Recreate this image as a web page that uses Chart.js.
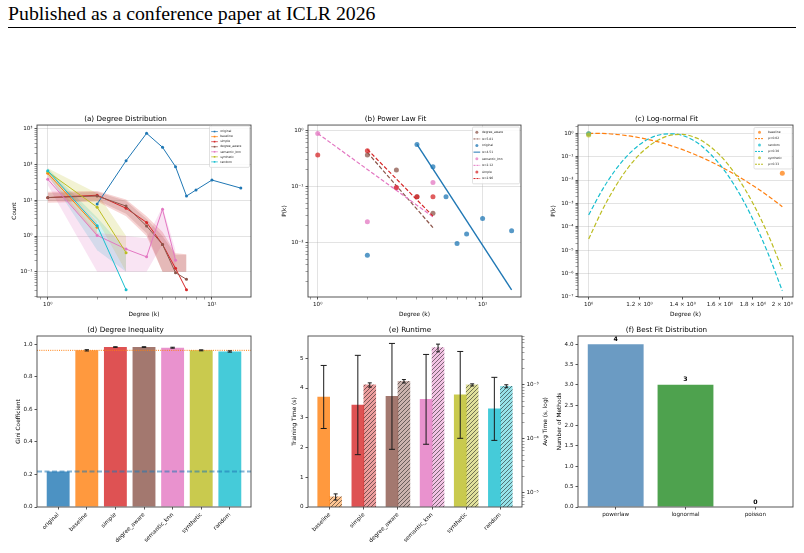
<!DOCTYPE html>
<html lang="en">
  <head>
    <meta charset="UTF-8" />
    <title>Degree distribution study</title>
    <style>
      body { margin: 0; background: #fff; }
      .page { position: relative; width: 804px; height: 553px; overflow: hidden; background: #fff; }
      .header { position: absolute; left: 8px; top: 4px; font-family: "Liberation Serif", serif; font-size: 19.8px; line-height: 1; color: #000; white-space: nowrap; }
      .rule { position: absolute; left: 8px; top: 27px; width: 788px; border-top: 1px solid #000; }
      canvas { position: absolute; }
    </style>
    <script src="https://cdn.jsdelivr.net/npm/chart.js@4.4.1/dist/chart.umd.min.js"></script>
  </head>
  <body>
    <div class="page">
      <div class="header">Published as a conference paper at ICLR 2026</div>
      <div class="rule"></div>
      <canvas id="ca" width="262" height="217" style="left:0;top:104px"></canvas>
      <canvas id="cb" width="262" height="217" style="left:270px;top:104px"></canvas>
      <canvas id="cc" width="264" height="217" style="left:540px;top:104px"></canvas>
      <canvas id="cd" width="262" height="237" style="left:0;top:316px"></canvas>
      <canvas id="ce" width="280" height="237" style="left:270px;top:316px"></canvas>
      <canvas id="cf" width="264" height="237" style="left:540px;top:316px"></canvas>
    </div>

    <script>
      // (a) degree distribution: mean counts per degree, with shaded spread
      const degMethods = ["original", "baseline", "simple", "degree_aware", "semantic_knn", "synthetic", "random"];
      const degK = [
        [2, 3, 4, 5, 6, 7, 8, 10, 15],
        [1, 2],
        [1, 2, 3, 4, 5, 6, 7],
        [1, 2, 3, 4, 5, 6, 7],
        [1, 2, 3, 4, 5, 6],
        [1, 2, 3],
        [1, 2, 3],
      ];
      const degCount = [
        [7.9, 129, 756, 307, 88, 13.2, 19.5, 37, 22],
        [57, 1.75],
        [11.9, 13.9, 6.0, 2.4, 0.58, 0.124, 0.031],
        [12, 13.2, 6.9, 1.9, 0.58, 0.094, 0.061],
        [39, 1.04, 0.43, 0.26, 5.6, 0.21],
        [63, 6.4, 0.34],
        [68, 1.95, 0.031],
      ];
      const degUpper = [
        null,
        [71, 2.5],
        [17.5, 18.3, 10.6, 3.6, 1.3, 0.33, 0.31],
        [16, 17, 9.5, 3.0, 1.0, 0.3, 0.3],
        [51, 1.24, 1.0, 0.86, 6.6, 0.4],
        [79, 15.7, 1.0],
        [79, 3.3, 0.4],
      ];
      const degLower = [
        null,
        [46, 0.96],
        [8.6, 9.2, 3.6, 1.0, 0.1, 0.1, 0.1],
        [9.5, 10, 4.2, 1.2, 0.1, 0.1, 0.1],
        [27, 0.1, 0.1, 0.1, 0.6, 0.1],
        [51, 2.8, 0.1],
        [51, 0.4, 0.1],
      ];

      // (b) power law fit
      const plMethods = ["degree_aware", "original", "semantic_knn", "simple"];
      const plAlpha = ["α=5.81", "α=4.51", "α=2.12", "α=2.96"];
      const plK = [[2, 3, 4, 5], [2, 4, 5, 6, 7, 8, 10, 15], [1, 2, 3, 5], [1, 2, 3, 4, 5]];
      const plP = [
        [0.36, 0.194, 0.065, 0.033],
        [0.0059, 0.556, 0.222, 0.065, 0.0096, 0.0141, 0.0267, 0.0161],
        [0.87, 0.0233, 0.094, 0.117],
        [0.36, 0.43, 0.095, 0.065, 0.065],
      ];
      const plFitK = [[2, 5], [4, 15], [1, 5], [2, 5]];
      const plFitP = [[0.4, 0.0184], [0.556, 0.00143], [0.87, 0.0286], [0.453, 0.0294]];

      // (c) log-normal fit
      const lnMethods = ["baseline", "random", "synthetic"];
      const lnMu = ["μ=0.02", "μ=0.30", "μ=0.33"];
      const lnPointK = [[1, 2], [1], [1]];
      const lnPointP = [[0.95, 0.0193], [0.97], [0.85]];
      const lnCurveK = [1.0, 1.05, 1.1, 1.15, 1.2, 1.25, 1.3, 1.35, 1.4, 1.45, 1.5, 1.6, 1.7, 1.8, 1.9, 2.0];
      const lnCurveP = [
        [1.0, 0.99, 0.91, 0.79, 0.65, 0.51, 0.39, 0.283, 0.2, 0.137, 0.092, 0.039, 0.0155, 0.0058, 0.0021, 0.00072],
        [3.2e-4, 3.8e-3, 0.0266, 0.115, 0.33, 0.65, 0.9, 0.95, 0.81, 0.53, 0.28, 0.0455, 0.004, 2.1e-4, 7.3e-6, 1.8e-7],
        [2.95e-5, 5.2e-4, 5.2e-3, 0.032, 0.126, 0.33, 0.62, 0.86, 0.9, 0.73, 0.48, 0.115, 0.0142, 1.02e-3, 4.7e-5, 1.5e-6],
      ];
      const lnXTicks = [1, 1.2, 1.4, 1.6, 1.8, 2];
      const lnXLabels = ["10⁰", "1.2 × 10⁰", "1.4 × 10⁰", "1.6 × 10⁰", "1.8 × 10⁰", "2 × 10⁰"];

      // (d) degree inequality
      const giniMethods = ["original", "baseline", "simple", "degree_aware", "semantic_knn", "synthetic", "random"];
      const gini = [0.218, 0.962, 0.982, 0.982, 0.978, 0.962, 0.955];
      const giniErr = [0, 0.004, 0.002, 0.002, 0.003, 0.003, 0.004];
      const giniRefOriginal = 0.218;
      const giniRefBaseline = 0.962;
      const giniTicks = [0, 0.2, 0.4, 0.6, 0.8, 1.0];

      // (e) runtime
      const rtMethods = ["baseline", "simple", "degree_aware", "semantic_knn", "synthetic", "random"];
      const trainTime = [3.7, 3.43, 3.72, 3.62, 3.77, 3.3];
      const trainErr = [1.06, 1.67, 1.78, 1.51, 1.46, 1.06];
      const augTime = [8.4e-6, 1.0e-3, 1.17e-3, 4.9e-3, 1.0e-3, 9.45e-4];
      const augErr = [1.1e-6, 9e-5, 8.5e-5, 8e-4, 4.5e-5, 6e-5];
      const trainTicks = [0, 1, 2, 3, 4, 5];

      // (f) best fit distribution
      const distNames = ["powerlaw", "lognormal", "poisson"];
      const distCounts = [4, 3, 0];
      const distTicks = [0, 0.5, 1, 1.5, 2, 2.5, 3, 3.5, 4];

      // ---------- styling helpers ----------
      const tab = {
        blue: "#1f77b4", orange: "#ff7f0e", red: "#d62728", brown: "#8c564b",
        pink: "#e377c2", olive: "#bcbd22", cyan: "#17becf",
      };
      const methodColor = {
        original: tab.blue, baseline: tab.orange, simple: tab.red, degree_aware: tab.brown,
        semantic_knn: tab.pink, synthetic: tab.olive, random: tab.cyan,
      };
      const hexA = (hex, a) => {
        const n = parseInt(hex.slice(1), 16);
        return `rgba(${n >> 16},${(n >> 8) & 255},${n & 255},${a})`;
      };
      const SUP = { 0: "⁰", 1: "¹", 2: "²", 3: "³", 4: "⁴", 5: "⁵", 6: "⁶", 7: "⁷", 8: "⁸", 9: "⁹", "-": "⁻" };
      const isDecade = (v) => Math.abs(Math.log10(v) - Math.round(Math.log10(v))) < 1e-6;
      const pow10 = (v) => "10" + String(Math.round(Math.log10(v))).split("").map((c) => SUP[c]).join("");
      function logTicks(min, max) {
        const out = [];
        for (let e = Math.floor(Math.log10(min)); e <= Math.ceil(Math.log10(max)); e++) {
          for (let m = 1; m < 10; m++) {
            const v = m * Math.pow(10, e);
            if (v >= min && v <= max) out.push(v);
          }
        }
        return out;
      }

      const TICK = { size: 5.6 };
      const LABEL = { size: 5.8 };
      const GRID = "rgba(176,176,176,0.35)";
      const SPINE = "#444";

      Chart.defaults.font.family = '"DejaVu Sans", sans-serif';
      Chart.defaults.color = "#111";
      Chart.defaults.animation = false;
      Chart.defaults.plugins.legend.display = false;
      Chart.defaults.plugins.tooltip.enabled = false;

      function axisTitle(text, pad) {
        return text ? { display: true, text: text, font: LABEL, color: "#000", padding: pad } : { display: false };
      }
      function fitter(o) {
        return (s) => {
          if (o.width) s.width = o.width;
          if (o.height) s.height = o.height;
        };
      }
      function logAxis(o) {
        const ticks = o.ticks || logTicks(o.min, o.max);
        const major = o.major || isDecade;
        return {
          type: "logarithmic", position: o.position || "left", min: o.min, max: o.max, bounds: "data",
          afterBuildTicks: (s) => { s.ticks = ticks.map((v) => ({ value: v })); },
          afterFit: fitter(o),
          ticks: {
            autoSkip: false, maxRotation: 0, minRotation: 0, padding: 2, font: TICK, color: "#111",
            callback: (v) => (o.label ? o.label(v) : isDecade(v) ? pow10(v) : ""),
          },
          grid: {
            drawOnChartArea: o.grid !== false, tickLength: 2.5,
            color: (c) => (c.tick && (o.gridAt ? o.gridAt(c.tick.value) : isDecade(c.tick.value)) ? GRID : "rgba(0,0,0,0)"),
            tickColor: SPINE,
            tickWidth: (c) => (c.tick && major(c.tick.value) ? 0.9 : 0.5),
          },
          border: { display: false },
          title: axisTitle(o.title, o.titlePad),
        };
      }
      function linAxis(o) {
        return {
          type: "linear", position: o.position || "left", min: o.min, max: o.max, bounds: "data", offset: false,
          afterBuildTicks: (s) => { s.ticks = o.ticks.map((v) => ({ value: v })); },
          afterFit: fitter(o),
          ticks: {
            autoSkip: false, padding: 2, font: TICK, color: "#111",
            maxRotation: o.rot || 0, minRotation: o.rot || 0, callback: o.label,
          },
          grid: { drawOnChartArea: false, offset: false, tickLength: 2.5, tickColor: SPINE, tickWidth: 0.9 },
          border: { display: false },
          title: axisTitle(o.title, o.titlePad),
        };
      }
      function titleOpt(text, top, bottom) {
        return { display: true, text: text, color: "#000", font: { size: 7.2, weight: "normal" }, padding: { top: top, bottom: bottom } };
      }

      // ---------- plugins ----------
      const refLines = {
        id: "refLines",
        afterDatasetsDraw(chart, args, o) {
          if (!o || !o.lines) return;
          const { ctx, chartArea: a } = chart;
          const ys = chart.scales.y;
          o.lines.forEach((l) => {
            const y = ys.getPixelForValue(l.value);
            ctx.save();
            ctx.strokeStyle = l.color;
            ctx.lineWidth = l.width;
            ctx.setLineDash(l.dash);
            ctx.beginPath();
            ctx.moveTo(a.left, y);
            ctx.lineTo(a.right, y);
            ctx.stroke();
            ctx.restore();
          });
        },
      };
      const errorBars = {
        id: "errorBars",
        afterDatasetsDraw(chart) {
          const ctx = chart.ctx;
          chart.data.datasets.forEach((ds, di) => {
            if (!ds.errors) return;
            const meta = chart.getDatasetMeta(di);
            const ys = chart.scales[meta.yAxisID];
            ctx.save();
            ctx.strokeStyle = "#1a1a1a";
            ctx.lineWidth = 1;
            meta.data.forEach((bar, i) => {
              const v = ds.data[i].y, e = ds.errors[i];
              if (!e) return;
              const top = ys.getPixelForValue(v + e), bot = ys.getPixelForValue(v - e);
              ctx.beginPath();
              ctx.moveTo(bar.x, top); ctx.lineTo(bar.x, bot);
              ctx.moveTo(bar.x - ds.cap, top); ctx.lineTo(bar.x + ds.cap, top);
              ctx.moveTo(bar.x - ds.cap, bot); ctx.lineTo(bar.x + ds.cap, bot);
              ctx.stroke();
            });
            ctx.restore();
          });
        },
      };
      const frame = {
        id: "frame",
        afterDatasetsDraw(chart) {
          const { ctx, chartArea: a } = chart;
          ctx.save();
          ctx.strokeStyle = SPINE;
          ctx.lineWidth = 0.9;
          ctx.strokeRect(a.left, a.top, a.right - a.left, a.bottom - a.top);
          ctx.restore();
        },
      };
      const boxLegend = {
        id: "boxLegend",
        afterDraw(chart, args, o) {
          if (!o || !o.items) return;
          const { ctx, chartArea: a } = chart;
          const x0 = a.right - o.right - o.width, y0 = a.top + o.top;
          const h = o.pad * 2 + o.items.length * o.row;
          ctx.save();
          ctx.fillStyle = "rgba(255,255,255,0.85)";
          ctx.strokeStyle = "rgba(205,205,205,1)";
          ctx.lineWidth = 0.6;
          ctx.beginPath();
          ctx.roundRect(x0, y0, o.width, h, 1.2);
          ctx.fill();
          ctx.stroke();
          ctx.font = o.font + 'px "DejaVu Sans"';
          ctx.textBaseline = "middle";
          o.items.forEach((it, i) => {
            const cy = y0 + o.pad + o.row * (i + 0.5);
            const hx0 = x0 + o.h0, hx1 = x0 + o.h1, mid = (hx0 + hx1) / 2;
            ctx.strokeStyle = it.color;
            ctx.fillStyle = it.color;
            if (it.kind === "point") {
              ctx.beginPath();
              ctx.arc(mid, cy, o.dot, 0, Math.PI * 2);
              ctx.fill();
            } else {
              ctx.lineWidth = it.kind === "marker" ? 0.7 : 1;
              ctx.setLineDash(it.kind === "dash" ? [2, 1] : []);
              ctx.beginPath();
              ctx.moveTo(hx0, cy);
              ctx.lineTo(hx1, cy);
              ctx.stroke();
              ctx.setLineDash([]);
              if (it.kind === "marker") ctx.fillRect(mid - 0.8, cy - 0.8, 1.6, 1.6);
            }
            ctx.fillStyle = "#222";
            ctx.fillText(it.text, x0 + o.tx, cy);
          });
          ctx.restore();
        },
      };
      Chart.register(refLines, errorBars, frame, boxLegend);

      // ---------- (a) Degree Distribution ----------
      const aSets = [];
      degMethods.forEach((m, j) => {
        const c = methodColor[m];
        aSets.push({
          label: m, data: degK[j].map((k, i) => ({ x: k, y: degCount[j][i] })),
          borderColor: c, backgroundColor: c, borderWidth: 1, pointRadius: 1.5, pointBorderWidth: 0,
          fill: false, order: -j,
        });
        if (degUpper[j]) {
          aSets.push({
            data: degK[j].map((k, i) => ({ x: k, y: degUpper[j][i] })),
            borderWidth: 0, pointRadius: 0, backgroundColor: hexA(c, 0.2), fill: "+1", order: 10,
          });
          aSets.push({
            data: degK[j].map((k, i) => ({ x: k, y: degLower[j][i] })),
            borderWidth: 0, pointRadius: 0, fill: false, order: 10,
          });
        }
      });
      new Chart(document.getElementById("ca"), {
        type: "line",
        data: { datasets: aSets },
        options: {
          responsive: false,
          layout: { padding: { right: 11 } },
          scales: {
            x: logAxis({ position: "bottom", min: 0.86, max: 17.3, height: 24, title: "Degree (k)", titlePad: { bottom: 3.2 } }),
            y: logAxis({ min: 0.0195, max: 1290, width: 37, title: "Count", titlePad: { top: 11.5 } }),
          },
          plugins: {
            title: titleOpt("(a) Degree Distribution", 11, 1.4),
            filler: { propagate: false, drawTime: "beforeDatasetsDraw" },
            boxLegend: {
              right: 1.5, top: 1, width: 40, pad: 3, row: 5.05, h0: 1.7, h1: 8.4, tx: 10.7, font: 3, dot: 1,
              items: degMethods.map((m) => ({ text: m, color: methodColor[m], kind: "marker" })),
            },
          },
        },
      });

      // ---------- (b) Power Law Fit ----------
      const bSets = [];
      const bItems = [];
      plMethods.forEach((m, j) => {
        const c = methodColor[m];
        bSets.push({
          data: plK[j].map((k, i) => ({ x: k, y: plP[j][i] })), showLine: false,
          pointRadius: 2.5, pointBorderWidth: 0, backgroundColor: hexA(c, 0.75), borderColor: hexA(c, 0.75), order: -2 * j,
        });
        bSets.push({
          data: plFitK[j].map((k, i) => ({ x: k, y: plFitP[j][i] })), showLine: true, pointRadius: 0,
          borderColor: c, borderWidth: m === "original" ? 1.4 : 1.2, borderDash: m === "original" ? [] : [4, 2],
          fill: false, order: -2 * j - 1,
        });
        bItems.push({ text: m, color: hexA(c, 0.75), kind: "point" });
        bItems.push({ text: plAlpha[j], color: c, kind: m === "original" ? "line" : "dash" });
      });
      new Chart(document.getElementById("cb"), {
        type: "line",
        data: { datasets: bSets },
        options: {
          responsive: false,
          layout: { padding: { right: 11 } },
          scales: {
            x: logAxis({ position: "bottom", min: 0.873, max: 17.1, height: 24, title: "Degree (k)", titlePad: { bottom: 3.2 } }),
            y: logAxis({ min: 0.00107, max: 1.23, width: 38, title: "P(k)", titlePad: { top: 11.5 } }),
          },
          plugins: {
            title: titleOpt("(b) Power Law Fit", 11, 1.4),
            boxLegend: { right: 1.5, top: 2, width: 47, pad: 2, row: 6.6, h0: 1, h1: 7.7, tx: 9.4, font: 3, dot: 1.5, items: bItems },
          },
        },
      });

      // ---------- (c) Log-normal Fit ----------
      const cSets = [];
      const cItems = [];
      lnMethods.forEach((m, j) => {
        const c = methodColor[m];
        cSets.push({
          data: lnPointK[j].map((k, i) => ({ x: k, y: lnPointP[j][i] })), showLine: false,
          pointRadius: 2.5, pointBorderWidth: 0, backgroundColor: hexA(c, 0.75), borderColor: hexA(c, 0.75), order: -2 * j,
        });
        cSets.push({
          data: lnCurveK.map((k, i) => ({ x: k, y: lnCurveP[j][i] })), showLine: true, pointRadius: 0,
          borderColor: c, borderWidth: 1.2, borderDash: [4.5, 2.2], cubicInterpolationMode: "monotone",
          fill: false, order: -2 * j - 1,
        });
        cItems.push({ text: m, color: hexA(c, 0.75), kind: "point" });
        cItems.push({ text: lnMu[j], color: c, kind: "dash" });
      });
      new Chart(document.getElementById("cc"), {
        type: "line",
        data: { datasets: cSets },
        options: {
          responsive: false,
          layout: { padding: { right: 11 } },
          scales: {
            x: logAxis({
              position: "bottom", min: 0.9625, max: 2.078, height: 24, title: "Degree (k)", titlePad: { bottom: 3.2 },
              ticks: lnXTicks, major: () => true, gridAt: (v) => isDecade(v),
              label: (v) => {
                const i = lnXTicks.findIndex((t) => Math.abs(t - v) < 1e-6);
                return i >= 0 ? lnXLabels[i] : "";
              },
            }),
            y: logAxis({ min: 9.77e-8, max: 2.27, width: 38, title: "P(k)", titlePad: { top: 10.5 } }),
          },
          plugins: {
            title: titleOpt("(c) Log-normal Fit", 11, 1.4),
            boxLegend: { right: 1, top: 2.5, width: 38, pad: 1.5, row: 6.4, h0: 1, h1: 10, tx: 14, font: 3, dot: 1.5, items: cItems },
          },
        },
      });

      // ---------- (d) Degree Inequality ----------
      new Chart(document.getElementById("cd"), {
        type: "bar",
        data: {
          datasets: [{
            data: gini.map((v, i) => ({ x: i, y: v })),
            backgroundColor: giniMethods.map((m) => hexA(methodColor[m], 0.8)),
            barPercentage: 0.8, categoryPercentage: 1, errors: giniErr, cap: 2.2,
          }],
        },
        options: {
          responsive: false,
          layout: { padding: { right: 11 } },
          scales: {
            x: linAxis({
              position: "bottom", min: -0.74, max: giniMethods.length - 0.26, height: 46, rot: 45,
              ticks: giniMethods.map((m, i) => i), label: (v) => giniMethods[v],
            }),
            y: linAxis({ min: 0, max: 1.05, width: 37, ticks: giniTicks, label: (v) => v.toFixed(1), title: "Gini Coefficient", titlePad: { top: 14.8 } }),
          },
          plugins: {
            title: titleOpt("(d) Degree Inequality", 9.4, 1.96),
            refLines: {
              lines: [
                { value: giniRefOriginal, color: hexA(tab.blue, 0.55), width: 2, dash: [5, 2.5] },
                { value: giniRefBaseline, color: tab.orange, width: 1, dash: [1, 1.2] },
              ],
            },
          },
        },
      });

      // ---------- (e) Runtime ----------
      const ceCanvas = document.getElementById("ce");
      function hatch(ctx, fill) {
        const t = document.createElement("canvas");
        t.width = 4;
        t.height = 4;
        const g = t.getContext("2d");
        g.fillStyle = "#fff";
        g.fillRect(0, 0, 4, 4);
        g.fillStyle = fill;
        g.fillRect(0, 0, 4, 4);
        g.strokeStyle = "rgba(20,20,20,0.9)";
        g.lineWidth = 0.6;
        g.beginPath();
        g.moveTo(0, 4); g.lineTo(4, 0);
        g.moveTo(-1, 1); g.lineTo(1, -1);
        g.moveTo(3, 5); g.lineTo(5, 3);
        g.stroke();
        return ctx.createPattern(t, "repeat");
      }
      const ceCtx = ceCanvas.getContext("2d");
      const rightTitle = {
        id: "rightTitle",
        afterDraw(chart) {
          const { ctx, chartArea: a } = chart;
          ctx.save();
          ctx.translate(chart.scales.y2.right - 4.3, (a.top + a.bottom) / 2);
          ctx.rotate(-Math.PI / 2);
          ctx.font = LABEL.size + 'px "DejaVu Sans"';
          ctx.fillStyle = "#000";
          ctx.textAlign = "center";
          ctx.textBaseline = "middle";
          ctx.fillText("Avg Time (s, log)", 0, 0);
          ctx.restore();
        },
      };
      new Chart(ceCanvas, {
        type: "bar",
        data: {
          datasets: [
            {
              yAxisID: "y", data: trainTime.map((v, i) => ({ x: i - 0.175, y: v })),
              backgroundColor: rtMethods.map((m) => hexA(methodColor[m], 0.8)),
              grouped: false, barPercentage: 1, categoryPercentage: 1, errors: trainErr, cap: 3,
            },
            {
              yAxisID: "y2", data: augTime.map((v, i) => ({ x: i + 0.175, y: v })),
              backgroundColor: rtMethods.map((m) => hatch(ceCtx, hexA(methodColor[m], 0.45))),
              grouped: false, barPercentage: 1, categoryPercentage: 1, errors: augErr, cap: 2,
            },
          ],
        },
        options: {
          responsive: false,
          scales: {
            x: linAxis({
              position: "bottom", min: -0.635, max: rtMethods.length - 0.365, height: 46, rot: 45,
              ticks: rtMethods.map((m, i) => i), label: (v) => rtMethods[v],
            }),
            y: linAxis({ min: 0, max: 5.75, width: 38, ticks: trainTicks, label: (v) => String(v), title: "Training Time (s)", titlePad: { top: 20.8 } }),
            y2: logAxis({ position: "right", min: 5.43e-6, max: 8.07e-3, width: 28, grid: false }),
          },
          plugins: { title: titleOpt("(e) Runtime", 9.4, 1.96) },
        },
        plugins: [rightTitle],
      });

      // ---------- (f) Best Fit Distribution ----------
      const barValues = {
        id: "barValues",
        afterDatasetsDraw(chart) {
          const { ctx } = chart;
          const meta = chart.getDatasetMeta(0);
          ctx.save();
          ctx.font = 'bold 6.2px "DejaVu Sans"';
          ctx.fillStyle = "#000";
          ctx.textAlign = "center";
          ctx.textBaseline = "bottom";
          meta.data.forEach((bar, i) => ctx.fillText(String(distCounts[i]), bar.x, bar.y - 2));
          ctx.restore();
        },
      };
      new Chart(document.getElementById("cf"), {
        type: "bar",
        data: {
          datasets: [{
            data: distCounts.map((v, i) => ({ x: i, y: v })),
            backgroundColor: [hexA("#4682b4", 0.8), hexA("#228b22", 0.8), hexA(tab.red, 0.8)],
            barPercentage: 0.8, categoryPercentage: 1,
          }],
        },
        options: {
          responsive: false,
          layout: { padding: { right: 11 } },
          scales: {
            x: linAxis({
              position: "bottom", min: -0.54, max: distNames.length - 0.46, height: 46,
              ticks: distNames.map((d, i) => i), label: (v) => distNames[v],
            }),
            y: linAxis({ min: 0, max: 4.2, width: 38, ticks: distTicks, label: (v) => v.toFixed(1), title: "Number of Methods", titlePad: { top: 15.8 } }),
          },
          plugins: { title: titleOpt("(f) Best Fit Distribution", 9.4, 1.96) },
        },
        plugins: [barValues],
      });
    </script>
  </body>
</html>
